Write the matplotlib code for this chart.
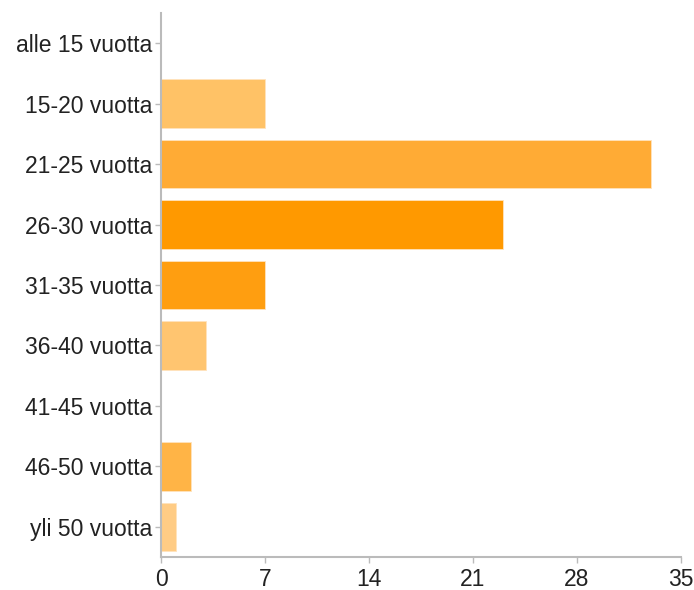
import matplotlib
matplotlib.use("Agg")
import matplotlib.pyplot as plt

categories = ["alle 15 vuotta", "15-20 vuotta", "21-25 vuotta", "26-30 vuotta",
              "31-35 vuotta", "36-40 vuotta", "41-45 vuotta", "46-50 vuotta",
              "yli 50 vuotta"]
values = [0, 7, 33, 23, 7, 3, 0, 2, 1]
colors = ["#FFC266", "#FFC266", "#FFAB35", "#FF9900", "#FF9E10", "#FFC570",
          "#FFB446", "#FFB446", "#FFCC85"]
xticks = [0, 7, 14, 21, 28, 35]

plt.rcParams['font.family'] = ['Liberation Sans', 'DejaVu Sans']

fig = plt.figure(figsize=(6.94, 5.9), dpi=100)
ax = fig.add_axes([161/694, 33/590, 520/694, 544/590])

pos = list(range(len(categories)))
ax.barh(pos, values, height=0.8, color=colors, edgecolor="#FFE3BD", linewidth=0.6)
ax.set_ylim(len(categories) - 0.5, -0.5)
ax.set_xlim(0, 35)
ax.set_yticks(pos)
ax.set_yticklabels(categories)
ax.set_xticks(xticks)
ax.set_xticklabels([str(t) for t in xticks])

for s in ["top", "right"]:
    ax.spines[s].set_visible(False)
for s in ["left", "bottom"]:
    ax.spines[s].set_color("#BBBBBB")
    ax.spines[s].set_linewidth(1.5)
ax.tick_params(axis="both", colors="#BBBBBB", labelcolor="#222222",
               labelsize=16.5, length=4, width=1)
ax.tick_params(axis="y", pad=2)
ax.tick_params(axis="x", pad=4)

fig.savefig("out.png", dpi=100)
